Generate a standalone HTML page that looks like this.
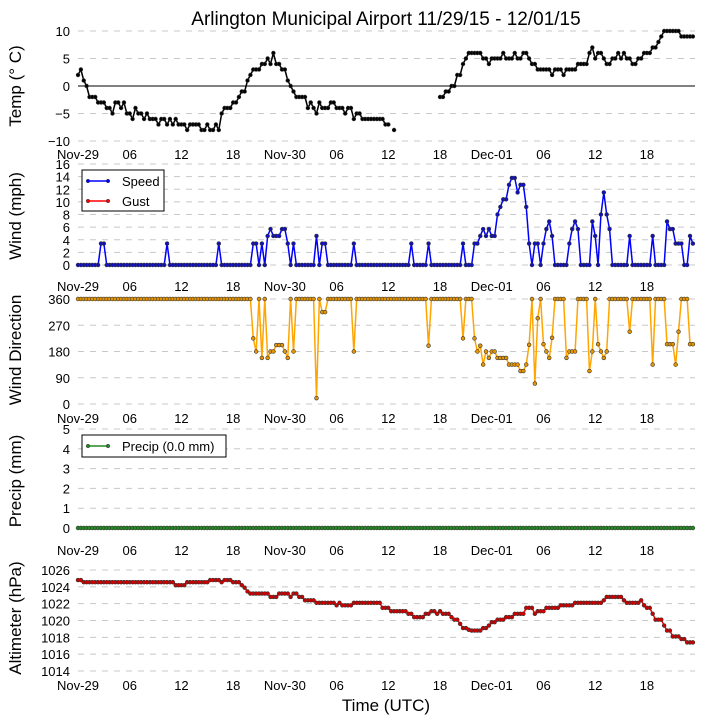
<!DOCTYPE html>
<html><head><meta charset="utf-8">
<style>
html,body{margin:0;padding:0;background:#fff;}
svg{display:block;font-family:"Liberation Sans","DejaVu Sans",sans-serif;}
</style></head>
<body>
<svg id="chart" width="705" height="725" viewBox="0 0 705 725" xmlns="http://www.w3.org/2000/svg">
<text x="386" y="25" font-size="19" text-anchor="middle">Arlington Municipal Airport 11/29/15 - 12/01/15</text>
<text x="386" y="711" font-size="17" text-anchor="middle">Time (UTC)</text>
<g id="layer"></g>
</svg>
<script>
// time step: 20 minutes per sample, starting Nov-29 00:00 UTC
const tickLabels = ["Nov-29","06","12","18","Nov-30","06","12","18","Dec-01","06","12","18"];
const tickHours = [0,6,12,18,24,30,36,42,48,54,60,66];

const tempValues = [2,3,1, 0,-2,-2, -2,-3,-3, -3,-4,-4, -5,-3,-3, -4,-3,-5, -5,-6,-4, -5,-5,-6, -5,-6,-6, -6,-7,-6, -6,-7,-6, -7,-6,-7, -7,-7,-8, -7,-7,-7, -7,-8,-8, -7,-8,-8, -7,-8,-5, -4,-4,-4, -3,-3,-2, -1,-1,1, 2,3,3, 3,4,4, 5,4,6, 4,4,3, 3,1,0, -1,-2,-2, -2,-2,-4, -3,-4,-5, -3,-4,-4, -4,-3,-3, -4,-4,-4, -5,-4,-4, -6,-5,-5, -6,-6,-6, -6,-6,-6, -6,-6,-7, -7,null,-8,
 null,null,null, null,null,null, null,null,null, null,null,null, null,null,null,
 -2,-2,-1, -1,0,0, 2,2,4, 5,6,6, 6,6,6, 5,5,4, 5,5,5, 5,6,5, 5,5,6, 5,5,6, 6,5,4, 4,3,3, 3,3,3, 2,3,3, 3,2,3, 3,3,3, 4,4,4, 4,6,7, 5,6,6, 5,4,4, 5,5,6, 5,6,5, 5,4,4, 5,5,6, 6,6,7, 7,8,9, 10,10,10, 10,10,10, 9,9,9, 9,9];

const speedValues = [0,0,0,0,0,0,0,0, 3.4,3.4,
 0,0,0,0,0,0,0,0,0,0,0,0,0,0,0,0,0,0,0,0,0, 3.4,
 0,0,0,0,0,0,0,0,0,0,0,0,0,0,0,0,0, 3.4,
 0,0,0,0,0,0,0,0,0,0,0,
 3.4,3.4,0,3.4,0,4.6,5.7,4.6,4.6,4.6,5.7,5.7,3.4,0,3.4,
 0,0,0,0,0,0,0, 4.6,0,3.4,3.4,
 0,0,0,0,0,0,0,0,0, 3.4,
 0,0,0,0,0,0,0,0,0,0,0,0,0,0,0,0,0,0,0, 3.4,
 0,0,0,0,0, 3.4,
 0,0,0,0,0,0,0,0,0,0,0, 3.4, 0,0,0,
 3.4,3.4,4.6,5.7,4.6,5.7,4.6,4.6,8,9.2,10.4,10.4,12.7,13.8,13.8,11.5,12.7,12.7,9.2,3.4,0,3.4,3.4,0,3.4,5.7,6.9,4.6,
 0,0,0,0,0, 3.4,5.7,6.9,5.7, 0,0,0,0, 6.9,4.6,0,8,11.5,8,5.7,
 0,0,0,0,0,0, 4.6, 0,0,0,0,0,0,0, 4.6, 0,0,0,0,
 6.9,5.7,5.7,3.4,3.4,3.4,0,0,4.6,3.4];

const dirValues = [360,360,360,360,360,360,360,360,360,360,360,360,360,360,360,360,360,360,360,360,
 360,360,360,360,360,360,360,360,360,360,360,360,360,360,360,360,360,360,360,360,
 360,360,360,360,360,360,360,360,360,360,360,360,360,360,360,360,360,360,360,360,360,
 225,180,360,158,360,158,180,180,202,202,202,180,158,360,180,
 360,360,360,360,360,360,360, 20,360,315,315,
 360,360,360,360,360,360,360,360,360, 180,
 360,360,360,360,360,360,360,360,360,360,360,360,360,360,360,360,360,360,360,360,360,360,360,360,360, 200,
 360,360,360,360,360,360,360,360,360,360,360,
 225,360,360,360,225,180,200,135,180,158,180,180,158,158,158,158,135,135,135,135,113,113,135,203,360,70,294,360,205,180,158,227,
 360,360,360,360,158,180,180,180,360,360,360,360,113,180,360,205,180,158,180,
 360,360,360,360,360,360,360,248,360,360,360,360,360,360,360,135,360,360,360,360,
 205,205,205,135,248,360,360,360,205,205];

const precipValues = [0,0,0,0,0,0,0,0,0,0,0,0,0,0,0,0,0,0,0,0,
 0,0,0,0,0,0,0,0,0,0,0,0,0,0,0,0,0,0,0,0,
 0,0,0,0,0,0,0,0,0,0,0,0,0,0,0,0,0,0,0,0,
 0,0,0,0,0,0,0,0,0,0,0,0,0,0,0,0,0,0,0,0,
 0,0,0,0,0,0,0,0,0,0,0,0,0,0,0,0,0,0,0,0,
 0,0,0,0,0,0,0,0,0,0,0,0,0,0,0,0,0,0,0,0,
 0,0,0,0,0,0,0,0,0,0,0,0,0,0,0,0,0,0,0,0,
 0,0,0,0,0,0,0,0,0,0,0,0,0,0,0,0,0,0,0,0,
 0,0,0,0,0,0,0,0,0,0,0,0,0,0,0,0,0,0,0,0,
 0,0,0,0,0,0,0,0,0,0,0,0,0,0,0,0,0,0,0,0,
 0,0,0,0,0,0,0,0,0,0,0,0,0,0,0];

const altValues = [1024.8,1024.8,
 1024.55,1024.55,1024.55,1024.55,1024.55,1024.55,1024.55,1024.55,1024.55,1024.55,1024.55,1024.55,1024.55,1024.55,1024.55,1024.55,
 1024.55,1024.55,1024.55,1024.55,1024.55,1024.55,1024.55,1024.55,1024.55,1024.55,1024.55,1024.55,1024.55,1024.55,1024.55,1024.55,
 1024.2,1024.2,1024.2,1024.2,
 1024.55,1024.55,1024.55,1024.55,1024.55,1024.55,1024.55,1024.55,
 1024.8,1024.8,1024.8,1024.8,1024.55,1024.8,1024.8,1024.8,
 1024.55,1024.55,1024.55,
 1024.2,1023.9,1023.45,
 1023.2,1023.2,1023.2,1023.2,1023.2,1023.2,1023.2,
 1022.8,1022.8,1022.8,
 1023.2,1023.2,1023.2,1023.2,
 1022.8,1023.2,1023.2,1022.8,1022.8,
 1022.4,1022.4,1022.4,1022.4,
 1022.1,1022.1,1022.1,1022.1,1022.1,1022.1,1022.1,
 1021.8,1022.1,1021.8,1021.8,1021.8,1021.8,
 1022.1,1022.1,1022.1,1022.1,1022.1,1022.1,1022.1,1022.1,1022.1,1022.1,
 1021.5,1021.5,1021.5,
 1021.1,1021.1,1021.1,1021.1,1021.1,1021.1,
 1020.8,1020.8,
 1020.4,1020.4,1020.4,1020.4,
 1020.8,1020.8,1021.1,1021.1,1020.8,1021.1,1020.8,1020.8,1020.8,
 1020.4,1020.1,1020.1,1019.6,1019.1,1019.1,1018.9,
 1018.8,1018.8,1018.8,1018.8,
 1019.1,1019.1,1019.4,1019.8,1019.8,
 1020.1,1020.1,1020.1,1020.4,1020.4,1020.4,
 1020.8,1020.8,1020.8,1020.8,
 1021.5,1021.5,1021.5,1020.8,1021.1,1021.1,1021.1,
 1021.5,1021.5,1021.5,1021.5,1021.5,
 1021.8,1021.8,1021.8,1021.8,1021.8,
 1022.1,1022.1,1022.1,1022.1,1022.1,1022.1,1022.1,1022.1,1022.1,1022.1,
 1022.4,1022.8,1022.8,1022.8,1022.8,1022.8,1022.8,1022.4,
 1022.1,1022.1,1022.1,1022.1,1022.1,1022.4,
 1021.8,1021.5,1021.5,1020.8,1020.1,1020.1,1020.1,1019.4,1018.8,1018.8,
 1018.1,1018.1,1018.1,1017.8,1017.8,1017.4,1017.4,1017.4];

const tempTicks = [10,5,0,-5,-10];
const windTicks = [0,2,4,6,8,10,12,14,16];
const dirTicks = [0,90,180,270,360];
const precipTicks = [0,1,2,3,4,5];
const altTicks = [1014,1016,1018,1020,1022,1024,1026];

const NS = "http://www.w3.org/2000/svg";
const layer = document.getElementById("layer");
const X0 = 78, X1 = 695, PX_PER_HOUR = 8.62;
function xHour(h){ return X0 + h * PX_PER_HOUR; }
function xIndex(i){ return xHour(i / 3); }
function mk(tag, attrs, parent){
  const el = document.createElementNS(NS, tag);
  for (const k in attrs) el.setAttribute(k, attrs[k]);
  (parent || layer).appendChild(el);
  return el;
}
function yScale(v0, y0, v1, y1){ return v => y0 + (v - v0) * (y1 - y0) / (v1 - v0); }

function panel(p){
  const g = mk("g", {});
  
  
  const y = yScale(p.vMin, p.yMin, p.vMax, p.yMax);
  p.ticks.forEach(t => {
    if (p.zeroLine && t === 0) {
      const zl = mk("line", {x1:X0, x2:X1, y1:y(0), y2:y(0), stroke:"#000", "stroke-width":1}, g);
      
      
    } else {
      const gl = mk("line", {x1:X0, x2:X1, y1:y(t), y2:y(t), stroke:"#c8c8c8", "stroke-width":1, "stroke-dasharray":"6,6"}, g);
      
      
    }
    const tl = mk("text", {x:70, y:y(t)+5, "font-size":13, "text-anchor":"end"}, g);
    tl.textContent = String(t).replace("-", "\u2212");
    
    
  });
  tickHours.forEach((h, k) => {
    const xl = mk("text", {x:xHour(h), y:p.xLabelY, "font-size":13, "text-anchor":"middle"}, g);
    xl.textContent = tickLabels[k];
    
    
  });
  const yt = mk("text", {x:0, y:0, "font-size":17, "text-anchor":"middle", transform:"translate(21," + p.titleY + ") rotate(-90)"}, g);
  yt.textContent = p.title;
  
  
  let d = "", pen = false;
  p.values.forEach((v, i) => {
    if (v === null) { pen = false; return; }
    d += (pen ? "L" : "M") + xIndex(i).toFixed(2) + "," + y(v).toFixed(2);
    pen = true;
  });
  const ln = mk("path", {d:d, fill:"none", stroke:p.color, "stroke-width":1.5, "stroke-linejoin":"round"}, g);
  
  
  p.values.forEach((v, i) => {
    if (v === null) return;
    const c = mk("circle", {cx:xIndex(i), cy:y(v), r:1.9, fill:p.dot, stroke:"#333", "stroke-width":0.6}, g);
    
    
  });
  return g;
}

panel({name:"temperature", values:tempValues, ticks:tempTicks, vMin:-10, yMin:141, vMax:10, yMax:31, zeroLine:true, xLabelY:159, title:"Temp (\u00B0 C)", titleY:86, color:"#000", dot:"#000"});
panel({name:"wind-speed", values:speedValues, ticks:windTicks, vMin:0, yMin:265, vMax:16, yMax:164, xLabelY:291, title:"Wind (mph)", titleY:216, color:"#0000ff", dot:"#1010c0"});
panel({name:"wind-direction", values:dirValues, ticks:dirTicks, vMin:0, yMin:404, vMax:360, yMax:299, xLabelY:423, title:"Wind Direction", titleY:350, color:"#ffa500", dot:"#e69500"});
panel({name:"precip", values:precipValues, ticks:precipTicks, vMin:0, yMin:528, vMax:5, yMax:429, xLabelY:555, title:"Precip (mm)", titleY:481, color:"#228b22", dot:"#228b22"});
panel({name:"altimeter", values:altValues, ticks:altTicks, vMin:1014, yMin:671, vMax:1026, yMax:570, xLabelY:690, title:"Altimeter (hPa)", titleY:618, color:"#ff0000", dot:"#d00000"});

function legend(name, x, y, w, h, entries){
  const g = mk("g", {});
  
  
  mk("rect", {x:x, y:y, width:w, height:h, fill:"#fff", stroke:"#000", "stroke-width":1}, g);
  entries.forEach((e, k) => {
    const ly = y + 11 + k * 20;
    const eg = mk("g", {}, g);
    
    
    mk("line", {x1:x+6, x2:x+26, y1:ly, y2:ly, stroke:e.color, "stroke-width":1.5}, eg);
    mk("circle", {cx:x+6, cy:ly, r:1.8, fill:e.color, stroke:"#333", "stroke-width":0.5}, eg);
    mk("circle", {cx:x+26, cy:ly, r:1.8, fill:e.color, stroke:"#333", "stroke-width":0.5}, eg);
    const t = mk("text", {x:x+40, y:ly+5, "font-size":13}, eg);
    t.textContent = e.label;
  });
}
legend("wind-legend", 82, 170, 82, 41, [{label:"Speed", color:"#0000ff"}, {label:"Gust", color:"#ff0000"}]);
legend("precip-legend", 82, 435, 144, 22, [{label:"Precip (0.0 mm)", color:"#228b22"}]);
</script>
</body></html>
